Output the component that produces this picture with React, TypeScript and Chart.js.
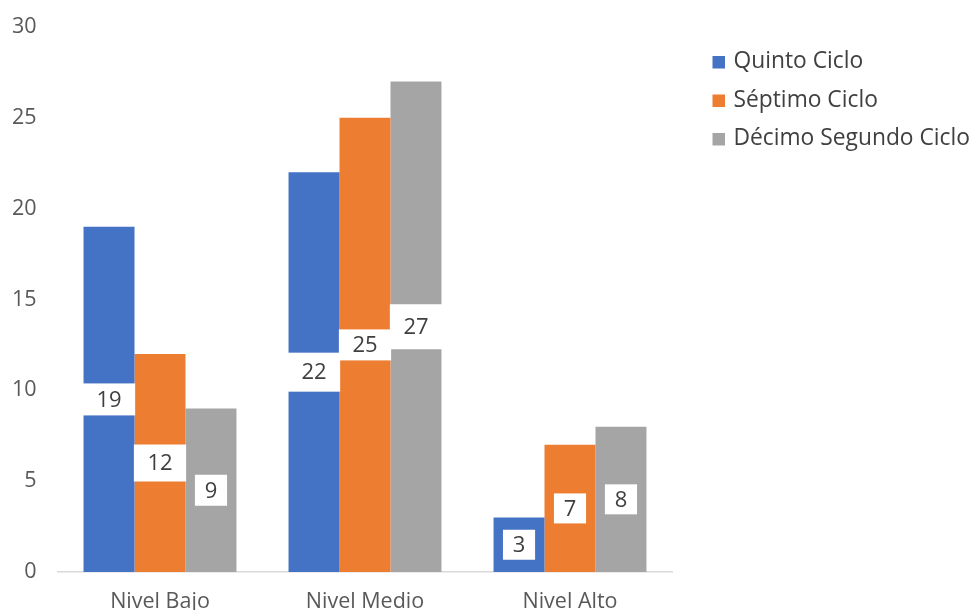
import React, { useEffect, useRef } from "react";
import { Chart, registerables } from "chart.js";

Chart.register(...registerables);

const categories = ["Nivel Bajo", "Nivel Medio", "Nivel Alto"];
const seriesNames = ["Quinto Ciclo", "Séptimo Ciclo", "Décimo Segundo Ciclo"];
const quinto = [19, 22, 3];
const septimo = [12, 25, 7];
const decimo = [9, 27, 8];
const yTicks = [0, 5, 10, 15, 20, 25, 30];
const colors = ["#4472C4", "#ED7D31", "#A5A5A5"];
// label box heights (style only), per series per category
const labelBoxHeights = [
  [32, 39, 30],
  [37, 31, 30],
  [31, 45, 30],
];

const FONT = "'Open Sans', 'Noto Sans', sans-serif";

const labelPlugin = {
  id: "boxLabels",
  afterDatasetsDraw(chart: any) {
    const ctx = chart.ctx;
    ctx.save();
    ctx.font = `22px ${FONT}`;
    ctx.textAlign = "center";
    ctx.textBaseline = "middle";
    chart.data.datasets.forEach((ds: any, di: number) => {
      const meta = chart.getDatasetMeta(di);
      meta.data.forEach((bar: any, i: number) => {
        const v = ds.data[i];
        const text = String(v);
        const y = chart.scales.y.getPixelForValue(v / 2);
        const x = bar.x;
        const tw = ctx.measureText(text).width;
        const w = tw * 1.6 + 12;
        const h = labelBoxHeights[di][i];
        ctx.fillStyle = "#FFFFFF";
        ctx.fillRect(x - w / 2, y - h / 2, w, h);
        ctx.fillStyle = "#404040";
        ctx.fillText(text, x, y + 1);
      });
    });
    ctx.restore();
  },
};

const legendPlugin = {
  id: "sideLegend",
  afterDraw(chart: any) {
    const ctx = chart.ctx;
    ctx.save();
    ctx.font = `22.8px ${FONT}`;
    ctx.textAlign = "left";
    ctx.textBaseline = "middle";
    const x0 = chart.chartArea.right + 40;
    const y0 = 62;
    const gap = 38.5;
    chart.data.datasets.forEach((ds: any, i: number) => {
      const y = y0 + i * gap;
      ctx.fillStyle = ds.backgroundColor;
      ctx.fillRect(x0, y - 6, 12.5, 12.5);
      ctx.fillStyle = "#404040";
      ctx.fillText(ds.label, x0 + 21, y);
    });
    ctx.restore();
  },
};

export default function App() {
  const ref = useRef<HTMLCanvasElement | null>(null);
  useEffect(() => {
    if (!ref.current) return;
    const chart = new Chart(ref.current, {
      type: "bar",
      data: {
        labels: categories,
        datasets: [quinto, septimo, decimo].map((d, i) => ({
          label: seriesNames[i],
          data: d,
          backgroundColor: colors[i],
          borderWidth: 0,
          categoryPercentage: 0.746,
          barPercentage: 1,
        })),
      },
      options: {
        responsive: false,
        animation: false,
        layout: { padding: { left: 12, right: 303.5, top: 27, bottom: 0 } },
        plugins: {
          legend: { display: false },
          tooltip: { enabled: false },
        },
        scales: {
          x: {
            grid: { display: false, drawTicks: false },
            border: { display: true, color: "#D9D9D9", width: 1.5 },
            ticks: {
              color: "#595959",
              font: { family: FONT, size: 21.5 },
              padding: 17,
            },
            afterFit: (s: any) => {
              s.height = 43;
              s.paddingLeft = 0;
              s.paddingRight = 0;
            },
          },
          y: {
            min: 0,
            max: 30,
            afterBuildTicks: (axis: any) => {
              axis.ticks = yTicks.map((v) => ({ value: v }));
            },
            grid: { display: false, drawTicks: false },
            border: { display: false },
            ticks: {
              color: "#595959",
              font: { family: FONT, size: 21.5 },
              padding: 21,
            },
            afterFit: (s: any) => {
              s.width = 45.5;
              s.paddingTop = 0;
              s.paddingBottom = 0;
            },
          },
        },
      },
      plugins: [labelPlugin, legendPlugin],
    });
    return () => chart.destroy();
  }, []);
  return (
    <div style={{ position: "fixed", left: 0, top: 0, width: 976, height: 615, background: "#fff" }}>
      <canvas ref={ref} width={976} height={615} style={{ display: "block" }} />
    </div>
  );
}
